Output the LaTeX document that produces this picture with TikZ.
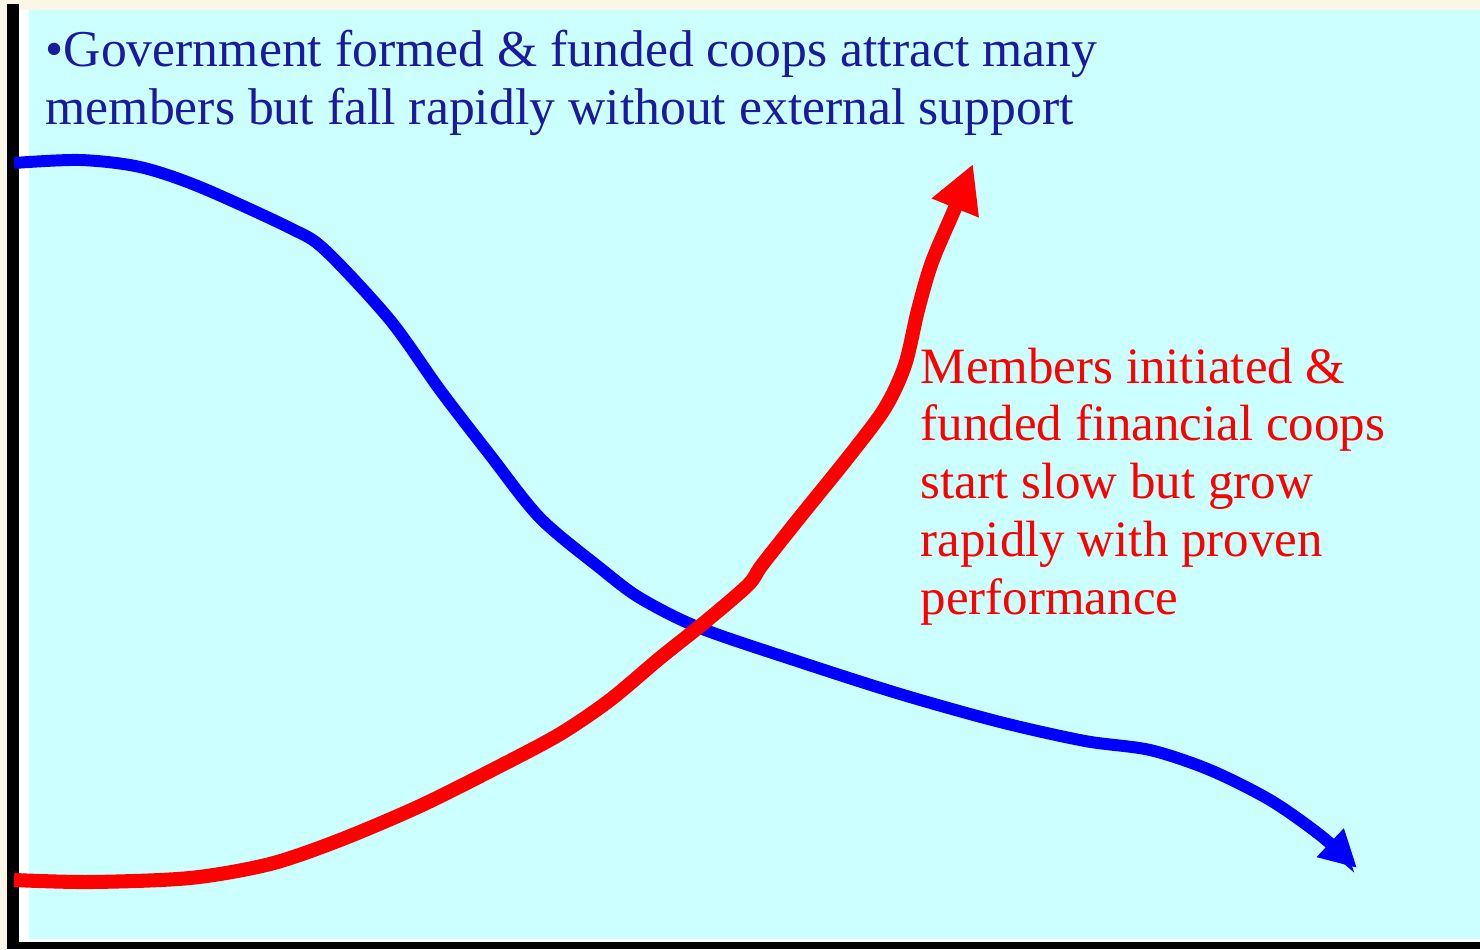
\documentclass[tikz,border=0pt]{standalone}
\usepackage{fontspec}
\setmainfont{Liberation Serif}
\usetikzlibrary{arrows.meta}

\definecolor{paper}{RGB}{251,246,230}
\definecolor{panel}{RGB}{204,255,255}
\definecolor{govblue}{RGB}{26,26,160}
\definecolor{curveblue}{RGB}{0,0,255}

\tikzset{
  govtext/.style={text=govblue, align=left, inner sep=0pt, font=\fontsize{14.7}{16.5}\selectfont},
  membtext/.style={text=red, align=left, inner sep=0pt, font=\fontsize{14.5}{16.4}\selectfont},
  govcurve/.style={curveblue, line width=3.4pt, -{Triangle[length=10.5pt,width=10.5pt]}},
  membcurve/.style={red, line width=4pt, -{Triangle[length=13.5pt,width=13.5pt]}}
}

\begin{document}
\begin{tikzpicture}[x=0.01cm, y=-0.01cm]

    % background and axes
    \fill[paper] (0,0) rectangle (1480,949);
    \useasboundingbox (0,0) rectangle (1480,949);
    \fill[white] (19,10) rectangle (1480,942);
    \fill[panel] (29,10) rectangle (1480,939);
    \fill[black] (7,4) rectangle (19,949);
    \fill[black] (7,942) rectangle (1480,949);

    % government formed coops
    \draw[govcurve] plot[smooth, tension=0.5] coordinates {
        (14,163) (80,160) (140,167) (200,187) (290,228) (325,250) (390,320)
        (440,390) (490,455) (540,518) (600,568) (640,598) (700,628) (800,662)
        (900,694) (1000,722) (1085,741) (1150,750) (1210,770) (1270,800)
        (1320,835) (1357,868)};

    % member initiated coops
    \draw[membcurve] plot[smooth, tension=0.5] coordinates {
        (14,880) (90,882) (190,878) (270,864) (340,840) (420,806) (500,766)
        (560,734) (610,700) (660,658) (705,622) (748,585) (762,565) (800,517)
        (850,455) (885,408) (905,365) (918,310) (932,262) (955,208) (973,164)};

    % base anchor = last line
    \node[govtext, anchor=base west] (govlabel) at (45,125)
        {\textbullet Government formed \& funded coops attract many\\
         members but fall rapidly without external support};

    \node[membtext, anchor=base west] (memblabel) at (920,614)
        {Members initiated \&\\
         funded financial coops\\
         start slow but grow\\
         rapidly with proven\\
         performance};

\end{tikzpicture}
\end{document}
